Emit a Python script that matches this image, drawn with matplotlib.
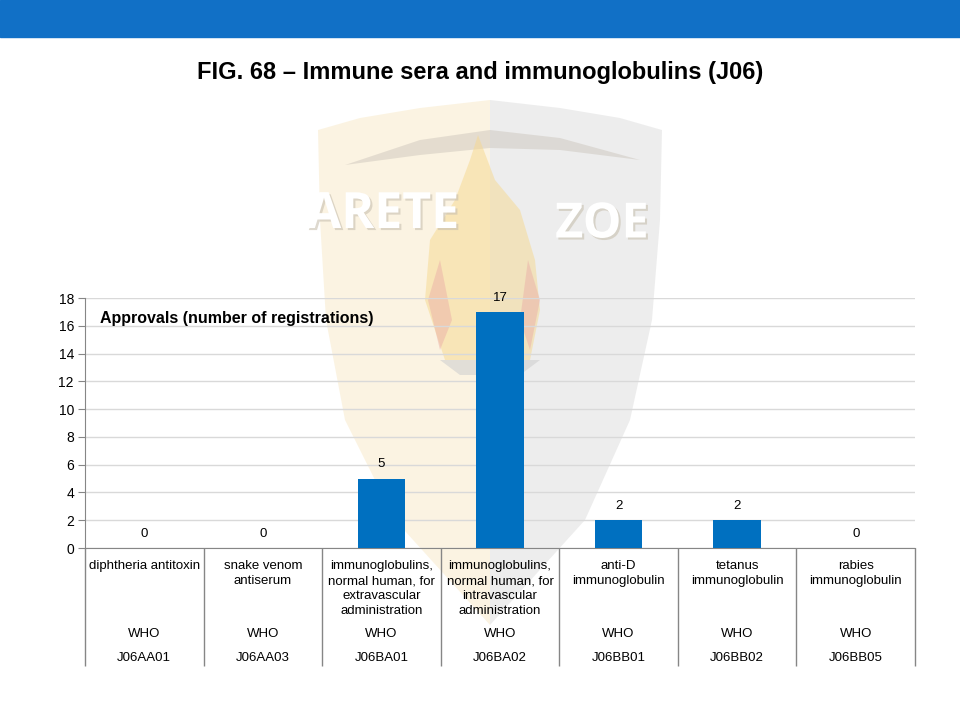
import numpy as np
import matplotlib.pyplot as plt
from matplotlib.patches import Polygon, Rectangle
import matplotlib.transforms as mtransforms
import matplotlib.patheffects as pe

plt.rcParams['font.family'] = ['Liberation Sans', 'DejaVu Sans']

# data
categories = ["diphtheria antitoxin",
              "snake venom\nantiserum",
              "immunoglobulins,\nnormal human, for\nextravascular\nadministration",
              "immunoglobulins,\nnormal human, for\nintravascular\nadministration",
              "anti-D\nimmunoglobulin",
              "tetanus\nimmunoglobulin",
              "rabies\nimmunoglobulin"]
sources = ["WHO", "WHO", "WHO", "WHO", "WHO", "WHO", "WHO"]
codes = ["J06AA01", "J06AA03", "J06BA01", "J06BA02", "J06BB01", "J06BB02", "J06BB05"]
approvals = [0, 0, 5, 17, 2, 2, 0]

title = "FIG. 68 \u2013 Immune sera and immunoglobulins (J06)"
series_name = "Approvals (number of registrations)"

fig = plt.figure(figsize=(9.6, 7.2), dpi=100)

# background / watermark layer in pixel coords
bg = fig.add_axes([0, 0, 1, 1], zorder=0)
bg.set_xlim(0, 960)
bg.set_ylim(720, 0)
bg.axis('off')
bg.add_patch(Rectangle((0, 0), 960, 37, color='#1170C6'))

shield_left = [(490, 100), (420, 108), (360, 118), (318, 130), (320, 220), (326, 320),
               (345, 420), (395, 520), (490, 625)]
shield_right = [(490, 100), (560, 108), (620, 118), (662, 130), (660, 220), (652, 320),
                (630, 420), (585, 520), (490, 625)]
bg.add_patch(Polygon(shield_left, closed=True, color='#F8EACB', alpha=0.55, lw=0))
bg.add_patch(Polygon(shield_right, closed=True, color='#E2E2E2', alpha=0.6, lw=0))
# dark brim
bg.add_patch(Polygon([(345, 165), (420, 140), (490, 130), (560, 138), (640, 160),
                      (560, 150), (490, 148), (420, 155)], closed=True,
                     color='#C9C2B8', alpha=0.45, lw=0))
# flame
bg.add_patch(Polygon([(445, 360), (425, 300), (430, 240), (455, 200), (470, 160),
                      (478, 135), (495, 180), (520, 210), (535, 260), (540, 310),
                      (530, 360)], closed=True, color='#F6D88E', alpha=0.5, lw=0))
bg.add_patch(Polygon([(440, 350), (428, 300), (440, 260), (452, 320)], closed=True,
                     color='#EBB0A8', alpha=0.5, lw=0))
bg.add_patch(Polygon([(530, 350), (540, 300), (528, 260), (520, 320)], closed=True,
                     color='#EBB0A8', alpha=0.5, lw=0))
bg.add_patch(Polygon([(440, 360), (540, 360), (520, 375), (460, 375)], closed=True,
                     color='#D0D0D0', alpha=0.6, lw=0))
shadow = [pe.withSimplePatchShadow(offset=(1.5, -1.5), shadow_rgbFace='#C8C0B0', alpha=0.6)]
bg.text(383, 215, "ARETE", fontsize=36, fontweight='bold', color='white',
        family=['Open Sans', 'DejaVu Sans'], ha='center', va='center', path_effects=shadow)
bg.text(602, 225, "ZOE", fontsize=35, fontweight='bold', color='white',
        family=['Open Sans', 'DejaVu Sans'], ha='center', va='center', path_effects=shadow)

fig.text(0.5, 1 - 72 / 720, title, ha='center', va='center', fontsize=17,
         fontweight='bold', color='black')

ax = fig.add_axes([85 / 960, 1 - 548 / 720, 830 / 960, 250 / 720], zorder=1)
ax.patch.set_alpha(0)
x = np.arange(len(categories))
bars = ax.bar(x, approvals, width=0.4, color='#0070C0', zorder=3)
for xi, v in zip(x, approvals):
    ax.annotate(str(v), (xi, v), xytext=(0, 6), textcoords='offset points',
                ha='center', va='bottom', fontsize=9.5)

ax.set_xlim(-0.5, len(categories) - 0.5)
ax.set_ylim(0, 18)
ax.set_yticks(np.arange(0, 19, 2))
ax.tick_params(axis='y', labelsize=10, length=5, color='#868686', pad=3)
ax.set_xticks([])
ax.yaxis.grid(True, color='#D9D9D9', lw=1)
ax.set_axisbelow(True)
for s in ['top', 'right']:
    ax.spines[s].set_visible(False)
ax.spines['left'].set_color('#868686')
ax.spines['bottom'].set_color('#868686')

ax.text(0.018, 0.916, series_name, transform=ax.transAxes, fontsize=11.5,
        fontweight='bold', ha='left', va='center')

# multi-level category table
trans = mtransforms.blended_transform_factory(ax.transData, ax.transAxes)
bounds = np.arange(len(categories) + 1) - 0.5
ax.vlines(bounds, -0.472, 0, transform=trans, color='#868686', lw=1, clip_on=False)
for xi, cat, src, code in zip(x, categories, sources, codes):
    ax.text(xi, -0.048, cat, transform=trans, ha='center', va='top', fontsize=9.5,
            linespacing=1.35)
    ax.text(xi, -0.344, src, transform=trans, ha='center', va='center', fontsize=9.5)
    ax.text(xi, -0.44, code, transform=trans, ha='center', va='center', fontsize=9.5)

fig.savefig('out.png', dpi=100)
